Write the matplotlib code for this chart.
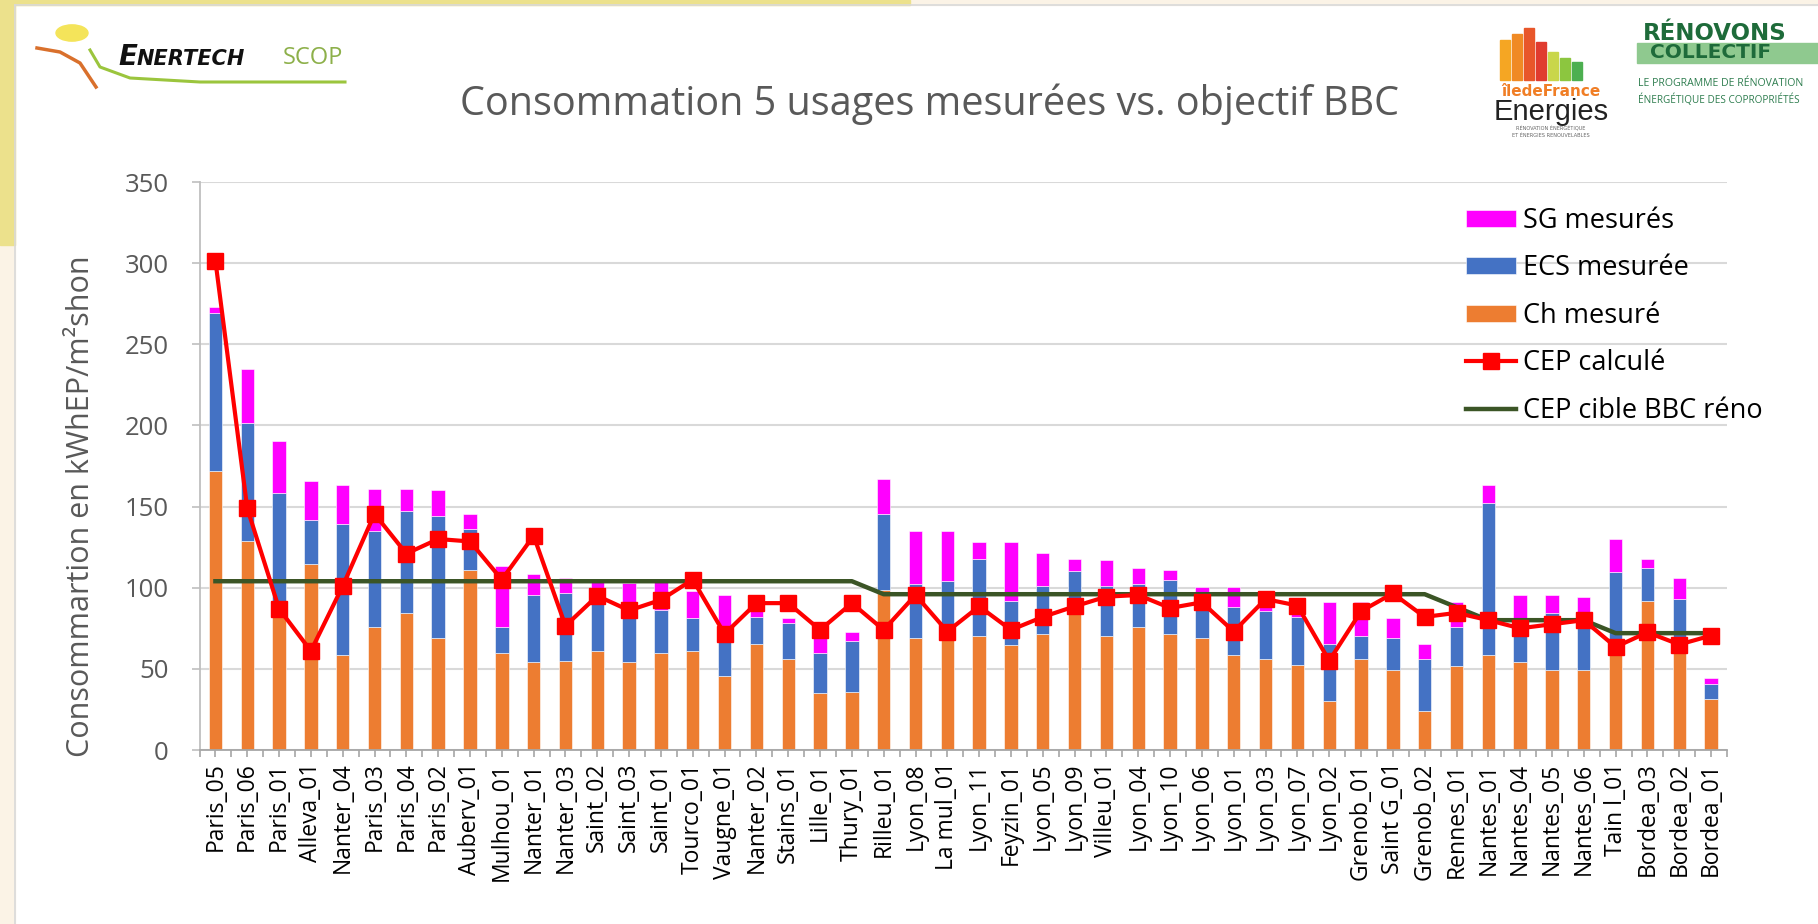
import matplotlib
matplotlib.use("Agg")
import matplotlib.pyplot as plt
from matplotlib.patches import Rectangle, Circle
from matplotlib.lines import Line2D
import numpy as np

# ---------------- data ----------------
sites = ["Paris_05", "Paris_06", "Paris_01", "Alleva_01", "Nanter_04", "Paris_03", "Paris_04",
         "Paris_02", "Auberv_01", "Mulhou_01", "Nanter_01", "Nanter_03", "Saint_02", "Saint_03",
         "Saint_01", "Tourco_01", "Vaugne_01", "Nanter_02", "Stains_01", "Lille_01", "Thury_01",
         "Rilleu_01", "Lyon_08", "La mul_01", "Lyon_11", "Feyzin_01", "Lyon_05", "Lyon_09",
         "Villeu_01", "Lyon_04", "Lyon_10", "Lyon_06", "Lyon_01", "Lyon_03", "Lyon_07", "Lyon_02",
         "Grenob_01", "Saint G_01", "Grenob_02", "Rennes_01", "Nantes_01", "Nantes_04",
         "Nantes_05", "Nantes_06", "Tain l_01", "Bordea_03", "Bordea_02", "Bordea_01"]

ch_mesure = [172, 129, 83, 114.5, 58.5, 75.5, 84.5, 69, 111, 60, 54, 55, 61, 54, 60, 61, 45.5,
             65.5, 56, 35, 36, 98.5, 69, 68, 70.5, 64.5, 71.5, 83.5, 70.5, 75.5, 71.5, 69, 58.5,
             56, 52.5, 30, 56, 49, 24, 51.5, 58.5, 54, 49, 49, 58.5, 92, 61, 31.5]

ecs_mesuree = [97.5, 72.5, 75.5, 27.5, 81, 59.5, 62.5, 75, 25, 15.5, 41.5, 42, 29.5, 27.5, 26,
               20.5, 22, 16.5, 22.5, 25, 31, 47, 33.5, 36, 47.5, 27.5, 29.5, 26.5, 30.5, 27,
               33.5, 17, 29.5, 29.5, 29.5, 35.5, 14.5, 20, 32, 24, 93.5, 17, 35.5, 26.5, 51, 20,
               32, 9]

sg_mesures = [3.5, 33.5, 32, 23.5, 24, 26, 14, 16, 9.5, 38, 13, 9, 14, 21.5, 17.5, 16.5, 28, 9,
              3, 12, 6, 21.5, 32.5, 31, 10, 36, 20.5, 8, 16, 9.5, 6, 14.5, 12.5, 10.5, 6, 26,
              20.5, 12.5, 9.5, 15.5, 11.5, 24.5, 11, 19, 20.5, 6, 13, 4]

cep_calcule = [301.5, 149, 87, 61, 101, 145.5, 121, 130, 128.5, 105, 132, 76.5, 95, 86, 92.5,
               105, 71.5, 90.5, 90.5, 74, 90.5, 74, 95.5, 73, 88.5, 74, 82, 88.5, 94.5, 95.5,
               87.5, 91, 73, 93, 89, 55, 85.5, 96.5, 82, 84.5, 80, 75, 77.5, 80, 63.5, 72.5, 65,
               70.5]

cep_cible_bbc = [104] * 21 + [96] * 18 + [88] + [80] * 4 + [72] * 4

y_ticks = [0, 50, 100, 150, 200, 250, 300, 350]

# ---------------- style ----------------
C_ORANGE = "#ED7D31"
C_BLUE = "#4472C4"
C_MAGENTA = "#FF00FF"
C_RED = "#FF0000"
C_GREEN = "#3B5526"
C_GRAY = "#595959"
FONT = ["Open Sans", "DejaVu Sans"]

W, H = 1818, 924
fig = plt.figure(figsize=(W / 100, H / 100), dpi=100)
fig.patch.set_facecolor("white")


def fx(px):
    return px / W


def fy(py):
    return 1 - py / H


# slide frame background
fig.patches.append(Rectangle((0, fy(5)), 1, 5 / H, transform=fig.transFigure,
                             color="#FBF3E6", zorder=0))
fig.patches.append(Rectangle((0, 0), fx(15), 1, transform=fig.transFigure,
                             color="#FBF3E6", zorder=0))
fig.patches.append(Rectangle((0, fy(5)), fx(910), 5 / H, transform=fig.transFigure,
                             color="#ECE18C", zorder=1))
fig.patches.append(Rectangle((0, fy(245)), fx(15), 245 / H, transform=fig.transFigure,
                             color="#ECE18C", zorder=1))
fig.lines.append(Line2D([fx(15), fx(15)], [0, fy(5)], transform=fig.transFigure,
                        color="#D9D9D9", lw=1.2, zorder=2))
fig.lines.append(Line2D([fx(15), 1], [fy(5), fy(5)], transform=fig.transFigure,
                        color="#D9D9D9", lw=1.2, zorder=2))

# ---------------- chart ----------------
ax = fig.add_axes([fx(199.5), fy(750), fx(1727 - 199.5), (750 - 182) / H])
x = np.arange(len(sites))
ch = np.array(ch_mesure)
ecs = np.array(ecs_mesuree)
sg = np.array(sg_mesures)
bw = 0.42
ax.bar(x, ch, bw, color=C_ORANGE, edgecolor="white", linewidth=0.4, zorder=2, label="Ch mesuré")
ax.bar(x, ecs, bw, bottom=ch, color=C_BLUE, edgecolor="white", linewidth=0.4, zorder=2,
       label="ECS mesurée")
ax.bar(x, sg, bw, bottom=ch + ecs, color=C_MAGENTA, edgecolor="white", linewidth=0.4, zorder=2,
       label="SG mesurés")
ax.plot(x, cep_cible_bbc, color=C_GREEN, lw=3.2, zorder=3, label="CEP cible BBC réno")
ax.plot(x, cep_calcule, color=C_RED, lw=3.0, marker="s", markersize=11.5, zorder=4,
        label="CEP calculé")

ax.set_xlim(-0.5, len(sites) - 0.5)
ax.set_ylim(0, 350)
ax.set_yticks(y_ticks)
ax.set_yticklabels([str(v) for v in y_ticks], family=FONT, fontsize=18.5, color=C_GRAY)
ax.tick_params(axis="y", length=6, color="#BFBFBF", width=1.2, pad=16)
ax.grid(axis="y", color="#D9D9D9", lw=1.5, zorder=0)
ax.set_axisbelow(True)

ax.set_xticks(np.arange(len(sites) + 1) - 0.5)
ax.set_xticklabels([])
ax.tick_params(axis="x", which="major", length=5, color="#A6A6A6", width=1.2, direction="out")
ax.set_xticks(x, minor=True)
ax.set_xticklabels(sites, minor=True, rotation=90, family=FONT, fontsize=16.5, color="black")
ax.tick_params(axis="x", which="minor", length=10, color="#A6A6A6", width=1.2,
               direction="inout", pad=4)

for s in ["top", "right"]:
    ax.spines[s].set_visible(False)
ax.spines["left"].set_color("#BFBFBF")
ax.spines["left"].set_linewidth(1.3)
ax.spines["bottom"].set_color("#A6A6A6")
ax.spines["bottom"].set_linewidth(1.3)

fig.text(fx(81), fy(506), "Consommartion en kWhEP/m²shon", rotation=90, ha="center",
         va="center", family=FONT, fontsize=22, color=C_GRAY)

# legend
h, l = ax.get_legend_handles_labels()
order = ["SG mesurés", "ECS mesurée", "Ch mesuré", "CEP calculé", "CEP cible BBC réno"]
hd = dict(zip(l, h))
leg = fig.legend([hd[k] for k in order], order, loc="upper left",
                 bbox_to_anchor=(fx(1455), fy(196)), frameon=False,
                 prop={"family": FONT, "size": 19.5}, handlelength=1.85, handleheight=0.6,
                 handletextpad=0.25, labelspacing=0.72, borderaxespad=0)

# title
fig.text(fx(930), fy(104), "Consommation 5 usages mesurées vs. objectif BBC", ha="center",
         va="center", family=FONT, fontsize=28.5, color=C_GRAY)

# ---------------- logos (approximation) ----------------
fig.patches.append(Circle((fx(72), fy(33)), 16 / W, transform=fig.transFigure,
                          color="#F4E45A", zorder=3))
fig.lines.append(Line2D([fx(37), fx(60), fx(80), fx(96)], [fy(48), fy(52), fy(63), fy(87)],
                        transform=fig.transFigure, color="#D9702C", lw=2.5, zorder=3))
fig.lines.append(Line2D([fx(90), fx(100), fx(130), fx(200), fx(345)],
                        [fy(50), fy(67), fy(78), fy(82), fy(82)],
                        transform=fig.transFigure, color="#9BC53D", lw=2.2, zorder=3))
fig.text(fx(118), fy(57), "E", family="DejaVu Sans", style="italic", weight="bold",
         fontsize=20, color="#111111", va="center", ha="left")
fig.text(fx(137), fy(59), "NERTECH", family="DejaVu Sans", style="italic", weight="bold",
         fontsize=15, color="#111111", va="center", ha="left")
fig.text(fx(283), fy(58), "SCOP", family=FONT, fontsize=17, color="#8DB04A",
         va="center", ha="left")

# Ile de France Energies
bcols = ["#F5A623", "#F08A24", "#E8562A", "#E03B2F", "#C9D64A", "#8CC63F", "#4CAF50"]
bh = [40, 46, 52, 38, 28, 22, 18]
for i, c in enumerate(bcols):
    fig.patches.append(Rectangle((fx(1500 + i * 12), fy(80)), 10 / W, bh[i] / H,
                                 transform=fig.transFigure, color=c, zorder=3))
fig.text(fx(1551), fy(91), "îledeFrance", family="DejaVu Sans", weight="bold", fontsize=11,
         color="#F07E26", ha="center", va="center")
fig.text(fx(1551), fy(112), "Energies", family="Liberation Sans", fontsize=21,
         color="#222222", ha="center", va="center")
fig.text(fx(1551), fy(128), "RÉNOVATION ÉNERGÉTIQUE", family="DejaVu Sans", fontsize=3.6,
         color="#666666", ha="center", va="center")
fig.text(fx(1551), fy(135), "ET ÉNERGIES RENOUVELABLES", family="DejaVu Sans", fontsize=3.6,
         color="#666666", ha="center", va="center")

# Renovons collectif
fig.patches.append(Rectangle((fx(1637), fy(63)), 181 / W, 20 / H, transform=fig.transFigure,
                             color="#8FC98F", zorder=3))
fig.text(fx(1643), fy(33), "RÉNOVONS", family="DejaVu Sans", weight="heavy", fontsize=16.5,
         color="#1E6B3A", ha="left", va="center", zorder=4)
fig.text(fx(1650), fy(53), "COLLECTIF", family="DejaVu Sans", weight="heavy", fontsize=14.5,
         color="#1E6B3A", ha="left", va="center", zorder=4)
fig.text(fx(1638), fy(84), "LE PROGRAMME DE RÉNOVATION", family=FONT, fontsize=7.6,
         color="#2E7D4F", ha="left", va="center")
fig.text(fx(1638), fy(100), "ÉNERGÉTIQUE DES COPROPRIÉTÉS", family=FONT, fontsize=7.2,
         color="#2E7D4F", ha="left", va="center")

fig.savefig("out.png", dpi=100, facecolor=fig.get_facecolor())
